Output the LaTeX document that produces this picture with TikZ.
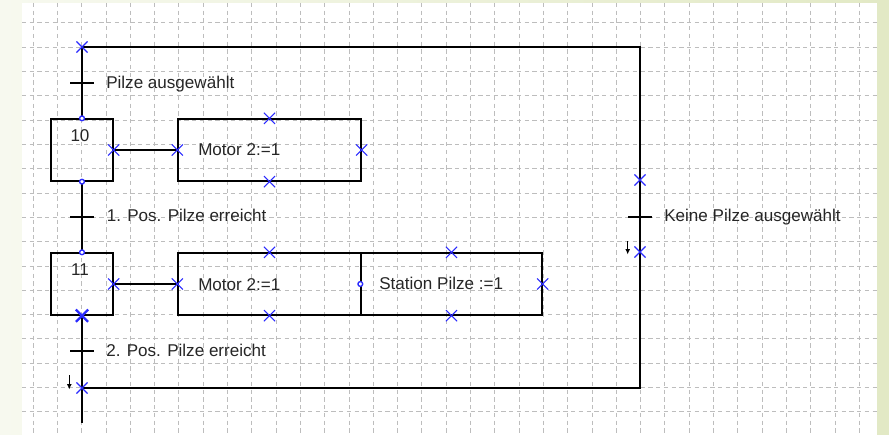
\documentclass[tikz,border=0pt]{standalone}
\usepackage{fontspec}
\setmainfont{Liberation Sans}
\usetikzlibrary{shapes.misc,arrows.meta,calc}

\definecolor{gridgray}{HTML}{BDBDBD}
\definecolor{markblue}{HTML}{2A2AFF}
\definecolor{frameleft}{HTML}{F7F9EF}
\definecolor{frameright}{HTML}{E2E9C5}

\begin{document}
\begin{tikzpicture}[
    x=0.75pt, y=-0.75pt,
    stepbox/.style={rectangle, draw=black, line width=1pt,
                    minimum width=46.5pt, minimum height=46.5pt, inner sep=0pt},
    actbox/.style={rectangle, draw=black, line width=1pt,
                   minimum height=46.5pt, inner sep=0pt},
    xmark/.style={cross out, draw=markblue, line width=0.85pt,
                  minimum size=7.5pt, inner sep=0pt},
    ring/.style={circle, draw=markblue, line width=1pt, fill=white,
                 minimum size=3.6pt, inner sep=0pt},
    link/.style={draw=black, line width=1pt},
    bar/.style={draw=black, line width=1pt},
    txt/.style={font=\fontsize{12.8pt}{15pt}\selectfont, text=black!85,
                inner sep=0pt, anchor=base west},
    gridline/.style={gridgray, line width=0.75pt, dash pattern=on 3.2pt off 2.6pt},
    tick/.style={-{Latex[length=4pt,width=3.6pt]}, line width=1.1pt},
]

% === Frame and grid ===
\useasboundingbox (0,0) rectangle (889,435);
\shade[left color=frameleft, right color=frameright] (0,0) rectangle (889,435);
\fill[white] (22,3) rectangle (877,435);

\foreach \k in {0,...,34} {
    \draw[gridline] ({33.1+24.3*\k},3) -- ({33.1+24.3*\k},435);
}
\foreach \k in {0,...,16} {
    \draw[gridline] (22,{23+24.3*\k}) -- (877,{23+24.3*\k});
}

% === Loop corners ===
\coordinate (top)  at (82,47);
\coordinate (topr) at (640,47);
\coordinate (botr) at (640,388);
\coordinate (botl) at (82,388);
\coordinate (bend) at (82,423);
\coordinate (k1)   at (640,180);
\coordinate (k2)   at (640,252);

% --- Steps ---
\node[stepbox] (s10) at (82,150) {};
\node[stepbox] (s11) at (82,284) {};
\node[txt, anchor=base] (n10) at (80,142) {10};
\node[txt, anchor=base] (n11) at (80,275) {11};

% --- Actions ---
\node[actbox, minimum width=137.25pt] (a10)  at (269.5,150) {};
\node[actbox, minimum width=137.25pt] (a11)  at (269.5,284) {};
\node[actbox, minimum width=135.75pt] (a11b) at (451.5,284) {};
\node[txt] (m10)  at (198,156)   {Motor 2:=1};
\node[txt] (m11)  at (198,290)   {Motor 2:=1};
\node[txt] (st11) at (379,289.5) {Station Pilze :=1};

% --- Connections ---
\draw[link] (top) -- (s10.north);
\draw[link] (s10.south) -- (s11.north);
\draw[link] (s11.south) -- (bend);
\draw[link] (top) -- (topr) -- (botr) -- (botl);
\draw[link] (s10.east) -- (a10.west);
\draw[link] (s11.east) -- (a11.west);

% --- Transitions ---
\coordinate (t1) at (82,83);
\coordinate (t2) at (82,217);
\coordinate (t3) at (82,351);
\coordinate (t4) at (640,217);
\foreach \t in {t1,t2,t3,t4} {
    \draw[bar] (\t) +(-12,0) -- +(12,0);
}
\node[txt] (l1) at (106,88.3)   {Pilze ausgewählt};
\node[txt] (l2) at (106.5,221.7) {1. Pos. Pilze erreicht};
\node[txt] (l3) at (106,356.5)  {2. Pos. Pilze erreicht};
\node[txt] (l4) at (664,221)    {Keine Pilze ausgewählt};

% --- Markers ---
\foreach \p in {s10.north, s10.south, s11.north, a11b.west} {
    \node[ring] at (\p) {};
}
\foreach \p in {top, s10.east, a10.west, a10.north, a10.south, a10.east,
                s11.east, a11.west, a11.north, a11.south,
                a11b.north, a11b.south, a11b.east, botl, k1, k2} {
    \node[xmark] at (\p) {};
}
\node[xmark, line width=1.7pt] at (s11.south) {};

\draw[tick] ($(botl)+(-12.7,-13)$) -- ($(botl)+(-12.7,1.5)$);
\draw[tick] ($(k2)+(-12.3,-11)$) -- ($(k2)+(-12.3,2.5)$);

\end{tikzpicture}
\end{document}
